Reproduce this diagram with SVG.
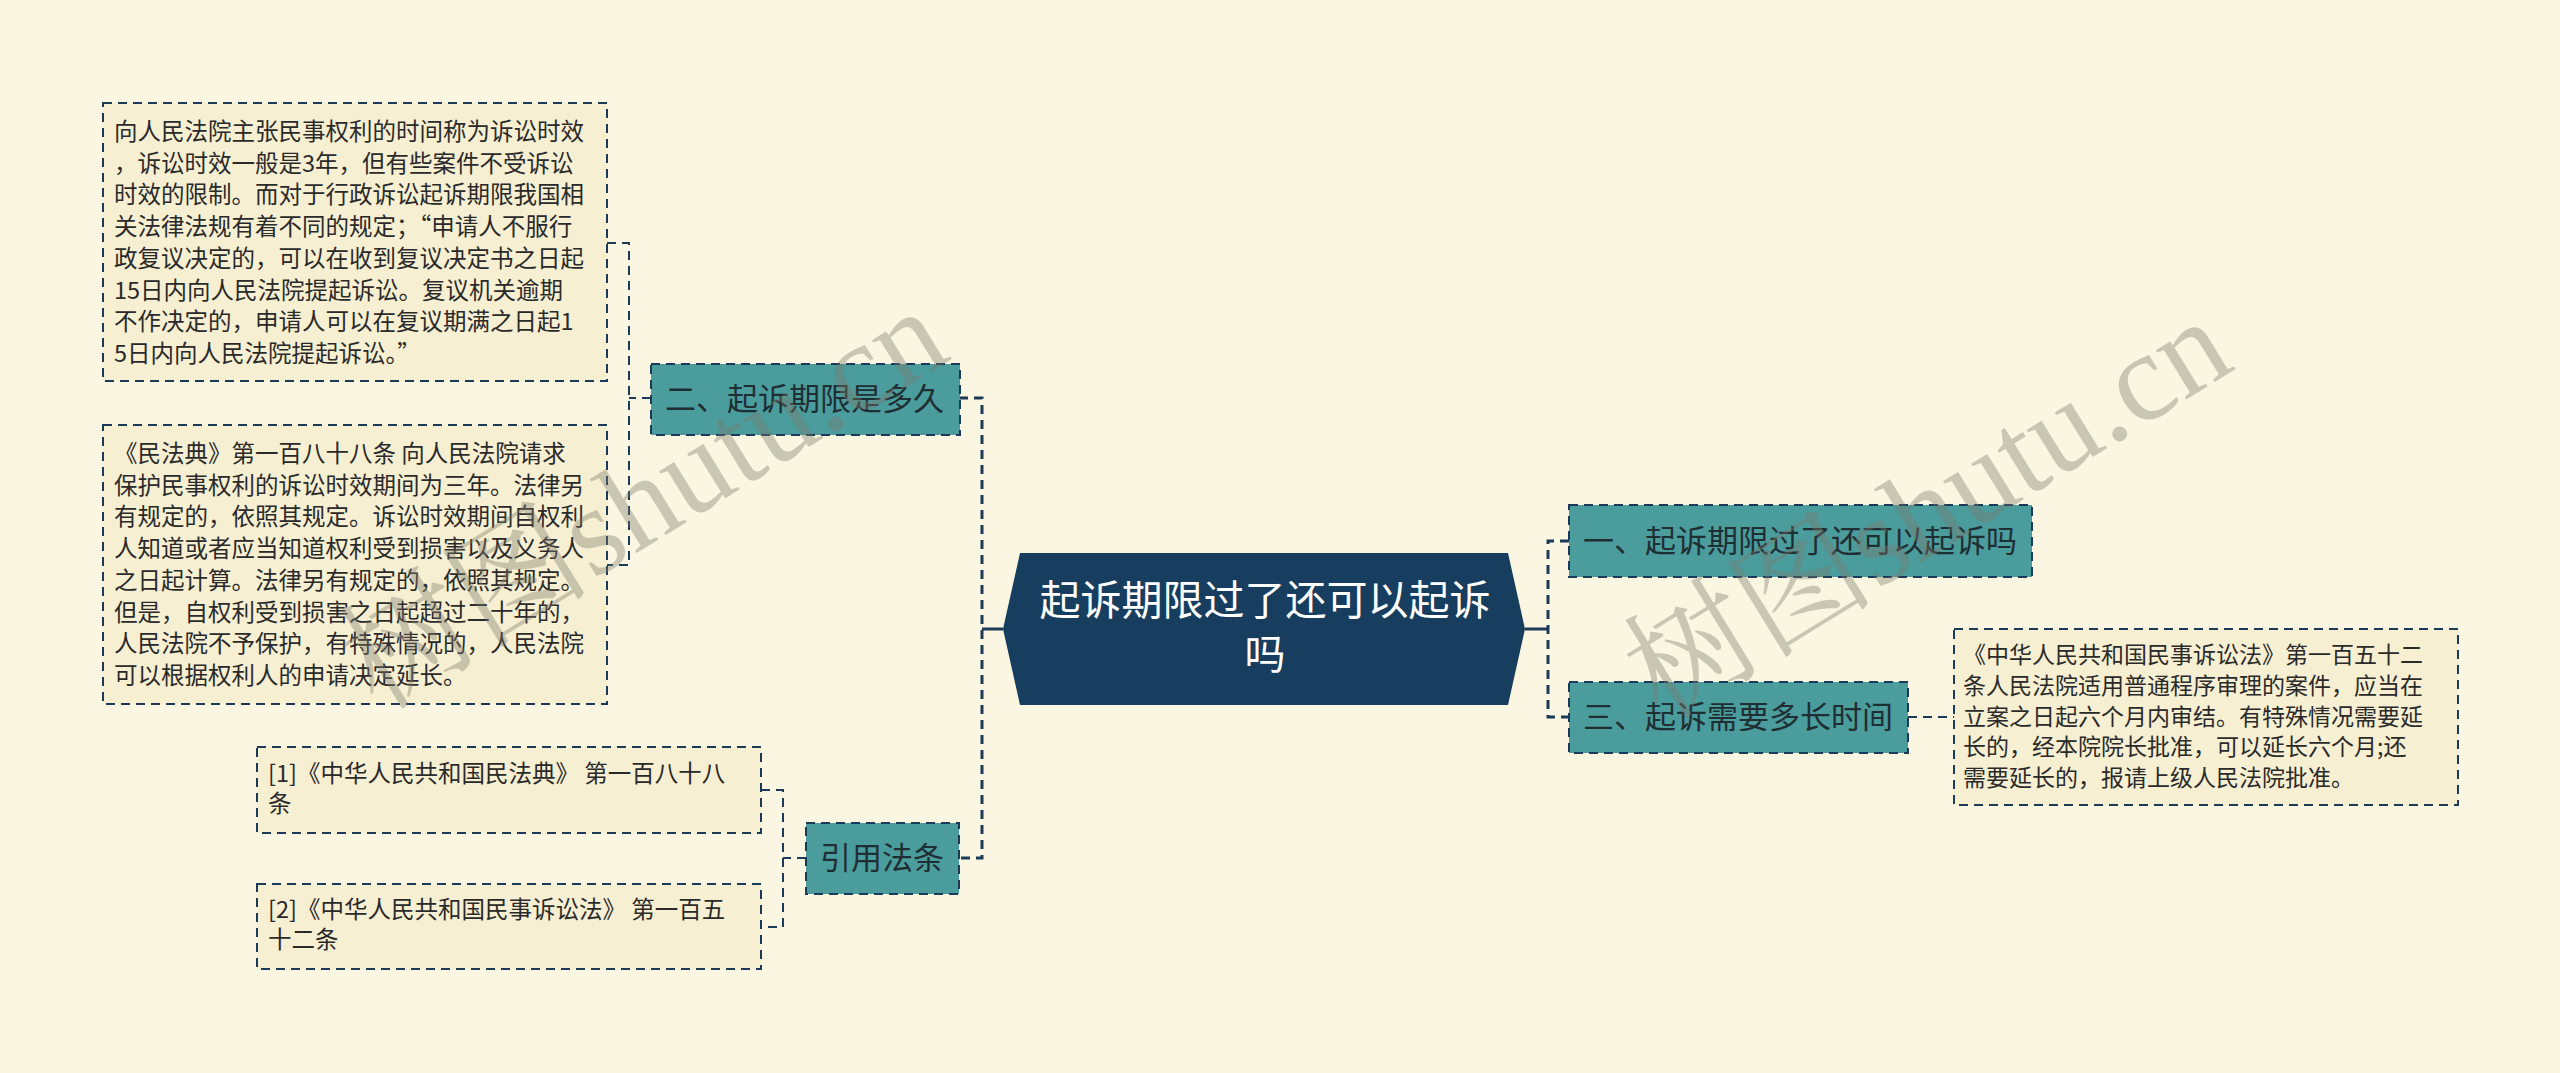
<svg xmlns="http://www.w3.org/2000/svg" width="2560" height="1073" viewBox="0 0 2560 1073">
<style>
.bg{fill:#fbf6e1}
.note{fill:#f6efd2;stroke:#1b3a57;stroke-width:2;stroke-dasharray:9 6}
.topic{fill:#4b9c9c;stroke:#1b3a57;stroke-width:2;stroke-dasharray:9 6}
.root{fill:#173e5e}
.t{font-family:"Noto Sans CJK SC","Microsoft YaHei",sans-serif;fill:#2a2a2a}
.nt{font-size:23.5px}
.tt{font-size:31px;fill:#1f2e33}
.rt{font-size:41px;fill:#ffffff}
.c{fill:none;stroke:#1b3a57;stroke-width:3;stroke-dasharray:9 6}
.c2{fill:none;stroke:#1b3a57;stroke-width:2;stroke-dasharray:9 6}
.cs{fill:none;stroke:#1b3a57;stroke-width:3}
.wm{font-family:"Liberation Serif","Noto Serif CJK SC","Noto Sans CJK SC",serif;font-size:126px;fill:#7d7a6c;opacity:0.38}
</style>
<rect class="bg" x="0" y="0" width="2560" height="1073"/>
<g id="connectors">
<path class="cs" d="M982,629 H1003"/>
<path class="c" d="M959,398 H982 V858 H959"/>
<path class="c2" d="M651,398 H629"/>
<path class="c2" d="M607,243 H629 V565 H607"/>
<path class="c2" d="M806,858 H783"/>
<path class="c2" d="M761,790 H783 V927 H761"/>
<path class="cs" d="M1525,629 H1548"/>
<path class="c" d="M1569,541 H1548 V717 H1569"/>
<path class="c2" d="M1908,717 H1954"/>
</g>
<g id="root">
<polygon class="root" points="1020,553 1508,553 1525,629 1508,705 1020,705 1003,629"/>
<text class="t rt" text-anchor="middle"><tspan x="1265" y="615">起诉期限过了还可以起诉</tspan><tspan x="1265" y="669">吗</tspan></text>
</g>
<g id="topic-2">
<rect class="topic" x="651" y="364" width="309" height="71"/>
<text class="t tt" x="665" y="410">二、起诉期限是多久</text>
</g>
<g id="note-1">
<rect class="note" x="103" y="103" width="504" height="278"/>
<text class="t nt"><tspan x="114" y="140">向人民法院主张民事权利的时间称为诉讼时效</tspan><tspan x="114" y="171.7">，诉讼时效一般是3年，但有些案件不受诉讼</tspan><tspan x="114" y="203.4">时效的限制。而对于行政诉讼起诉期限我国相</tspan><tspan x="114" y="235.1">关法律法规有着不同的规定；“申请人不服行</tspan><tspan x="114" y="266.8">政复议决定的，可以在收到复议决定书之日起</tspan><tspan x="114" y="298.5">15日内向人民法院提起诉讼。复议机关逾期</tspan><tspan x="114" y="330.2">不作决定的，申请人可以在复议期满之日起1</tspan><tspan x="114" y="361.9">5日内向人民法院提起诉讼。”</tspan></text>
</g>
<g id="note-2">
<rect class="note" x="103" y="425" width="504" height="279"/>
<text class="t nt"><tspan x="114" y="462">《民法典》第一百八十八条 向人民法院请求</tspan><tspan x="114" y="493.7">保护民事权利的诉讼时效期间为三年。法律另</tspan><tspan x="114" y="525.4">有规定的，依照其规定。诉讼时效期间自权利</tspan><tspan x="114" y="557.1">人知道或者应当知道权利受到损害以及义务人</tspan><tspan x="114" y="588.8">之日起计算。法律另有规定的，依照其规定。</tspan><tspan x="114" y="620.5">但是，自权利受到损害之日起超过二十年的，</tspan><tspan x="114" y="652.2">人民法院不予保护，有特殊情况的，人民法院</tspan><tspan x="114" y="683.9">可以根据权利人的申请决定延长。</tspan></text>
</g>
<g id="topic-ref">
<rect class="topic" x="806" y="823" width="153" height="71"/>
<text class="t tt" x="820" y="869">引用法条</text>
</g>
<g id="ref-1">
<rect class="note" x="257" y="747" width="504" height="86"/>
<text class="t nt"><tspan x="268" y="782">[1]《中华人民共和国民法典》 第一百八十八</tspan><tspan x="268" y="812">条</tspan></text>
</g>
<g id="ref-2">
<rect class="note" x="257" y="884" width="504" height="85"/>
<text class="t nt"><tspan x="268" y="918">[2]《中华人民共和国民事诉讼法》 第一百五</tspan><tspan x="268" y="948">十二条</tspan></text>
</g>
<g id="topic-1">
<rect class="topic" x="1569" y="505" width="463" height="72"/>
<text class="t tt" x="1583" y="552">一、起诉期限过了还可以起诉吗</text>
</g>
<g id="topic-3">
<rect class="topic" x="1569" y="682" width="339" height="71"/>
<text class="t tt" x="1583" y="728">三、起诉需要多长时间</text>
</g>
<g id="note-3">
<rect class="note" x="1954" y="629" width="504" height="176"/>
<text class="t nt" style="font-size:23px"><tspan x="1963" y="663">《中华人民共和国民事诉讼法》第一百五十二</tspan><tspan x="1963" y="693.8">条人民法院适用普通程序审理的案件，应当在</tspan><tspan x="1963" y="724.6">立案之日起六个月内审结。有特殊情况需要延</tspan><tspan x="1963" y="755.4">长的，经本院院长批准，可以延长六个月;还</tspan><tspan x="1963" y="786.2">需要延长的，报请上级人民法院批准。</tspan></text>
</g>
<text class="wm" x="378" y="712" transform="rotate(-31.6 378 712)">树图shutu.cn</text>
<text class="wm" x="1662" y="722" transform="rotate(-31.6 1662 722)">树图shutu.cn</text>
</svg>
